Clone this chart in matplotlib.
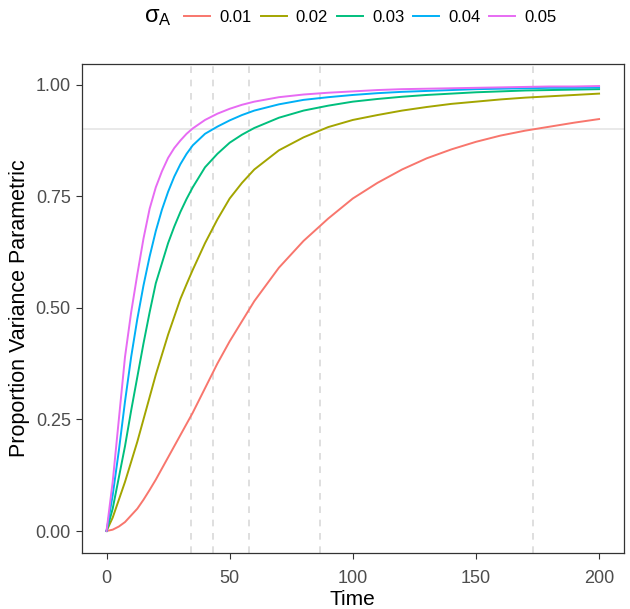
import matplotlib
matplotlib.use("Agg")
import matplotlib.pyplot as plt

plt.rcParams['font.family'] = ['Liberation Sans', 'DejaVu Sans']
plt.rcParams['mathtext.fontset'] = 'custom'
plt.rcParams['mathtext.rm'] = 'Liberation Sans'
plt.rcParams['mathtext.it'] = 'Liberation Sans'

# time points
time = [0, 2.5, 5, 7.5, 10, 12.5, 15, 17.5, 20, 22.5, 25, 27.5, 30, 32.5, 35, 40, 45,
        50, 55, 60, 70, 80, 90, 100, 110, 120, 130, 140, 150, 160, 170, 180, 190, 200]

sigma_labels = ["0.01", "0.02", "0.03", "0.04", "0.05"]

prop_001 = [0, 0.003, 0.01, 0.02, 0.035, 0.05, 0.07, 0.092, 0.115, 0.14, 0.165, 0.19,
            0.215, 0.24, 0.265, 0.32, 0.375, 0.425, 0.47, 0.515, 0.59, 0.65, 0.70,
            0.745, 0.78, 0.81, 0.835, 0.855, 0.872, 0.886, 0.897, 0.906, 0.915, 0.923]
prop_002 = [0, 0.03, 0.07, 0.11, 0.155, 0.2, 0.25, 0.30, 0.35, 0.395, 0.44, 0.48,
            0.52, 0.553, 0.585, 0.645, 0.698, 0.745, 0.78, 0.81, 0.853, 0.882, 0.905,
            0.921, 0.932, 0.942, 0.95, 0.957, 0.962, 0.967, 0.971, 0.974, 0.977, 0.98]
prop_003 = [0, 0.05, 0.12, 0.19, 0.27, 0.345, 0.42, 0.49, 0.555, 0.60, 0.645, 0.682,
            0.715, 0.744, 0.77, 0.815, 0.845, 0.87, 0.888, 0.903, 0.926, 0.942, 0.953,
            0.962, 0.968, 0.973, 0.977, 0.98, 0.983, 0.985, 0.987, 0.988, 0.989, 0.99]
prop_004 = [0, 0.08, 0.18, 0.29, 0.39, 0.475, 0.55, 0.615, 0.672, 0.72, 0.76, 0.794,
            0.822, 0.845, 0.864, 0.89, 0.906, 0.92, 0.932, 0.942, 0.956, 0.966, 0.972,
            0.977, 0.981, 0.984, 0.986, 0.988, 0.99, 0.991, 0.992, 0.993, 0.993, 0.994]
prop_005 = [0, 0.11, 0.25, 0.39, 0.49, 0.575, 0.655, 0.722, 0.77, 0.806, 0.836, 0.858,
            0.875, 0.89, 0.902, 0.921, 0.935, 0.946, 0.955, 0.962, 0.972, 0.978, 0.982,
            0.985, 0.988, 0.99, 0.991, 0.992, 0.993, 0.994, 0.995, 0.996, 0.996, 0.997]

# times where each curve reaches 0.9
cross_times = [34.4, 43.2, 57.9, 86.8, 173.2]
threshold = 0.9

colors = ['#F8766D', '#A3A500', '#00BF7D', '#00B0F6', '#E76BF3']
series = [prop_001, prop_002, prop_003, prop_004, prop_005]

fig = plt.figure(figsize=(6.3, 6.09), dpi=100)
ax = fig.add_axes([0.1300, 0.0915, 0.8600, 0.8038])

ax.axhline(threshold, color='#E5E5E5', lw=1.2, zorder=1)
for t in cross_times:
    ax.axvline(t, color='#D9D9D9', lw=1.2, ls=(0, (4, 4)), zorder=1)

handles = []
for vals, col, lab in zip(series, colors, sigma_labels):
    h, = ax.plot(time, vals, color=col, lw=1.4, label=lab, zorder=3)
    handles.append(h)

ax.set_xlim(-10, 210)
ax.set_ylim(-0.0499, 1.0469)
ax.set_xticks([0, 50, 100, 150, 200])
ax.set_yticks([0, 0.25, 0.5, 0.75, 1.0])
ax.set_yticklabels(["0.00", "0.25", "0.50", "0.75", "1.00"])
ax.tick_params(length=4, width=0.8, color='#333333', labelcolor='#4D4D4D',
               labelsize=13)
ax.tick_params(axis='x', pad=8)
ax.tick_params(axis='y', pad=4)
for s in ax.spines.values():
    s.set_color('#333333')
    s.set_linewidth(0.9)

ax.set_xlabel("Time", fontsize=15, labelpad=2)
ax.set_ylabel("Proportion Variance Parametric", fontsize=15.5, labelpad=4)

fig.text(0.25, 0.972, r"$\sigma_\mathrm{A}$", fontsize=17, ha='center', va='center')
fig.legend(handles=handles, loc='center', bbox_to_anchor=(0.588, 0.972), ncol=5,
           frameon=False, fontsize=12, handlelength=1.56, handletextpad=0.54,
           columnspacing=0.54, borderpad=0)

fig.savefig("out.png", dpi=100)
